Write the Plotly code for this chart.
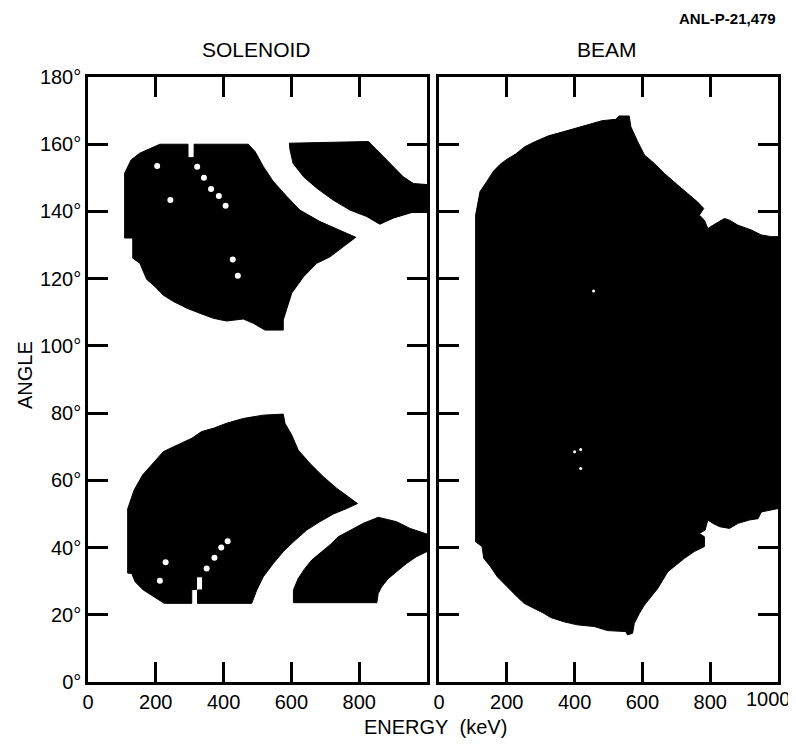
import plotly.graph_objects as go

# ---------------- data (energy keV, angle deg) ----------------
SOL_UL_E = [108, 127, 152, 197, 212, 295, 295, 313, 313, 473, 493, 517, 546, 587, 625, 684, 743, 790,
            753, 714, 675, 636, 601, 576, 576, 522, 488, 458, 409, 370, 330, 292, 252, 222, 198, 173,
            153, 132, 132, 108]
SOL_UL_A = [151.4, 155.3, 157.3, 159.3, 160.0, 160.0, 156.0, 156.0, 160.0, 160.0, 157.8, 153.4, 149.0,
            144.4, 140.4, 137.0, 134.5, 132.3, 129.5, 126.5, 124.6, 120.6, 115.7, 107.7, 104.7, 104.7,
            106.7, 108.0, 107.4, 108.2, 109.7, 111.2, 113.2, 115.1, 117.6, 119.8, 124.6, 126.1, 132.1,
            132.1]

SOL_UR_E = [594, 827, 852, 891, 930, 960, 1000, 1000, 959, 900, 861, 822, 773, 723, 675, 636, 605, 596]
SOL_UR_A = [160.3, 160.8, 158.3, 154.3, 150.3, 148.3, 148.0, 139.8, 139.8, 138.0, 136.2, 138.5, 140.4,
            143.4, 146.9, 150.3, 154.3, 158.3]

SOL_LL_E = [117, 136, 161, 183, 203, 222, 242, 276, 306, 335, 370, 409, 458, 517, 576, 581, 601, 620,
            655, 694, 734, 768, 795, 763, 724, 684, 645, 606, 576, 547, 517, 498, 483, 323, 323, 338,
            338, 320, 320, 306, 306, 225, 203, 163, 139, 129, 117]
SOL_LL_A = [51.5, 57.1, 61.6, 64.1, 66.5, 68.5, 69.5, 71.0, 72.5, 74.5, 75.5, 77.0, 78.4, 79.4, 79.7,
            77.0, 73.5, 69.0, 65.0, 61.1, 57.6, 55.1, 53.1, 51.6, 50.0, 47.7, 45.2, 41.7, 38.8, 35.3,
            31.3, 27.4, 23.4, 23.4, 27.4, 27.4, 31.3, 31.3, 27.5, 27.5, 23.4, 23.4, 24.9, 27.4, 29.8,
            32.3, 32.4]

SOL_LR_E = [606, 606, 620, 640, 660, 684, 714, 738, 773, 812, 856, 910, 950, 989, 1000, 1000,
            969, 940, 910, 886, 866, 856, 852]
SOL_LR_A = [23.6, 27.4, 30.8, 33.8, 36.3, 38.3, 40.8, 43.2, 45.2, 47.2, 49.0, 47.7, 45.7, 44.2,
            44.0, 38.8, 37.3, 35.3, 32.8, 30.8, 28.3, 26.3, 23.6]

BEAM_E = [108, 121, 141, 161, 180, 200, 225, 254, 284, 323, 363, 402, 442, 481, 521, 532, 561, 566,
          586, 606, 635, 665, 699, 734, 763, 781, 768, 783, 793, 808, 842, 857, 882, 921, 951, 980,
          1000, 1000, 951, 941, 916, 882, 857, 828, 808, 793, 785, 768, 783, 783, 753, 724, 699, 675,
          660, 645, 625, 606, 591, 576, 571, 556, 551, 497, 458, 408, 369, 329, 310, 280, 251, 231,
          211, 191, 172, 152, 132, 127, 108]
BEAM_A = [138.9, 145.9, 148.9, 152.0, 154.0, 155.5, 157.0, 159.3, 160.8, 162.5, 163.6, 164.7, 166.0,
          167.0, 167.4, 168.4, 168.4, 165.2, 160.8, 156.8, 154.3, 151.3, 148.3, 145.3, 142.8, 140.9,
          138.9, 137.4, 134.9, 135.9, 137.9, 137.4, 135.9, 134.5, 133.0, 132.5, 132.5, 51.6, 50.6,
          48.6, 48.2, 47.2, 45.7, 46.2, 47.2, 48.2, 45.2, 44.2, 43.2, 40.3, 38.8, 36.8, 34.8, 32.8,
          30.3, 27.8, 25.3, 22.9, 20.4, 17.4, 14.5, 14.0, 15.0, 15.3, 16.5, 17.0, 17.9, 19.2, 20.4,
          21.9, 23.4, 25.3, 27.4, 29.3, 31.3, 34.3, 36.8, 40.3, 41.7]

SOL_HOLE_E = [204, 243, 322, 342, 363, 386, 406, 427, 442, 212, 229, 350, 373, 393, 412]
SOL_HOLE_A = [153.5, 143.4, 153.3, 150.0, 146.7, 144.6, 141.7, 125.7, 120.9, 30.1, 35.6, 33.8, 37.0,
              40.0, 41.9]
BEAM_HOLE_E = [418, 418, 456, 400]
BEAM_HOLE_A = [69.2, 63.5, 116.3, 68.5]

ENERGY_TICKS_L = [0, 200, 400, 600, 800]
ENERGY_TICKS_R = [0, 200, 400, 600, 800, 1000]
ANGLE_TICKS = [0, 20, 40, 60, 80, 100, 120, 140, 160, 180]
ANGLE_LABELS = [f"{a}\u00b0" for a in ANGLE_TICKS]

# ---------------- figure ----------------
# the page body has an 8px default margin: the figure is offset by 8px and kept
# small enough that the page does not scroll
OFF = 8
W, H = 796 - OFF, 746 - 2 * OFF


def fx(px):
    return (px - OFF) / W


def fy(py):
    return 1 - (py - OFF) / H


fig = go.Figure()


def poly(e, a, xa, ya):
    fig.add_trace(go.Scatter(x=e + [e[0]], y=a + [a[0]], mode="lines", fill="toself",
                             fillcolor="black", line=dict(color="black", width=1),
                             xaxis=xa, yaxis=ya, hoverinfo="skip", showlegend=False))


poly(SOL_UL_E, SOL_UL_A, "x", "y")
poly(SOL_UR_E, SOL_UR_A, "x", "y")
poly(SOL_LL_E, SOL_LL_A, "x", "y")
poly(SOL_LR_E, SOL_LR_A, "x", "y")
poly(BEAM_E, BEAM_A, "x2", "y2")

fig.add_trace(go.Scatter(x=SOL_HOLE_E, y=SOL_HOLE_A, mode="markers",
                         marker=dict(color="white", size=6, symbol="circle", line=dict(width=0)),
                         xaxis="x", yaxis="y", hoverinfo="skip", showlegend=False))
fig.add_trace(go.Scatter(x=BEAM_HOLE_E, y=BEAM_HOLE_A, mode="markers",
                         marker=dict(color="white", size=3, symbol="circle", line=dict(width=0)),
                         xaxis="x2", yaxis="y2", hoverinfo="skip", showlegend=False))

TICKFONT = dict(family="Liberation Sans, Arial, sans-serif", size=20, color="black")
ax_common = dict(showline=True, linecolor="black", linewidth=2.5, mirror="ticks",
                 ticks="inside", ticklen=20, tickwidth=2.5, tickcolor="black",
                 showgrid=False, zeroline=False, tickfont=TICKFONT, fixedrange=True,
                 automargin=False, ticklabeloverflow="allow")

# the last label ("1000") sits at the very edge of the page, so it is set as a
# right-anchored label at x = 1000 on the same axis instead of a centred tick label
fig.update_layout(
    width=W, height=H,
    margin=dict(l=0, r=0, t=0, b=0),
    paper_bgcolor="white", plot_bgcolor="white",
    xaxis=dict(domain=[fx(88), fx(427)], range=[0, 1000], anchor="y",
               tickvals=ENERGY_TICKS_L, ticktext=[str(v) for v in ENERGY_TICKS_L], **ax_common),
    yaxis=dict(domain=[fy(682), fy(77)], range=[0, 180], anchor="x",
               tickvals=ANGLE_TICKS, ticktext=ANGLE_LABELS, **ax_common),
    xaxis2=dict(domain=[fx(439), fx(778)], range=[0, 1000], anchor="y2",
                tickvals=ENERGY_TICKS_R[:-1], ticktext=[str(v) for v in ENERGY_TICKS_R[:-1]],
                **ax_common),
    yaxis2=dict(domain=[fy(682), fy(77)], range=[0, 180], anchor="x2",
                tickvals=ANGLE_TICKS, showticklabels=False, **ax_common),
)

LBL = dict(family="Liberation Sans, Arial, sans-serif", color="black")
fig.add_annotation(text=str(ENERGY_TICKS_R[-1]), x=ENERGY_TICKS_R[-1], xref="x2",
                   y=fy(699), yref="paper", xanchor="right", yanchor="middle", xshift=15,
                   showarrow=False, font=dict(size=20, **LBL))

ANN = dict(xref="paper", yref="paper", showarrow=False, xanchor="center", yanchor="middle")
fig.add_annotation(text="SOLENOID", x=fx(256), y=fy(49), font=dict(size=21, **LBL), **ANN)
fig.add_annotation(text="BEAM", x=fx(607), y=fy(49), font=dict(size=21, **LBL), **ANN)
fig.add_annotation(text="<b>ANL-P-21,479</b>", x=fx(727), y=fy(18),
                   font=dict(size=15, **LBL), **ANN)
fig.add_annotation(text="ANGLE", x=fx(25), y=fy(375), textangle=-90,
                   font=dict(size=20, **LBL), **ANN)
fig.add_annotation(text="ENERGY\u00a0\u00a0(keV)", x=fx(436), y=fy(727),
                   font=dict(size=20, **LBL), **ANN)

fig.write_html("out.html")
